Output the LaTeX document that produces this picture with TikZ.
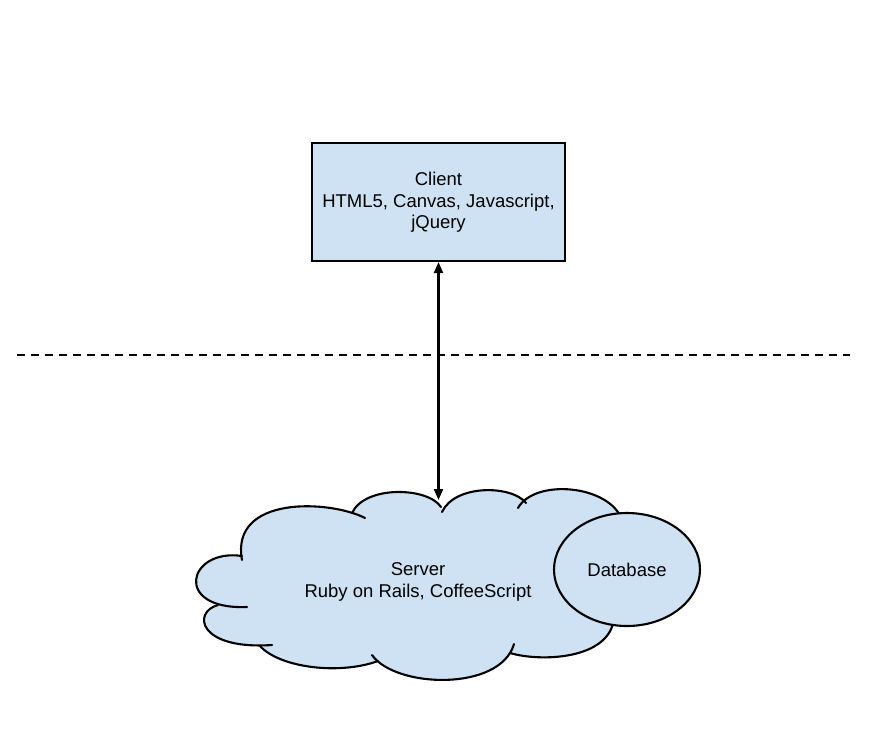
\documentclass[tikz,border=0pt]{standalone}
\usepackage{fontspec}
\setmainfont{Liberation Sans}
\usetikzlibrary{arrows.meta,shapes.geometric}
\definecolor{fillblue}{HTML}{CFE2F3}
\begin{document}
\begin{tikzpicture}[x=1pt,y=-1pt,
  line width=2.1pt,
  label/.style={font=\fontsize{18.5}{21.5}\selectfont, align=center, text=black},
  boxstyle/.style={draw=black, fill=fillblue, rectangle, line width=2.1pt, minimum width=253pt, minimum height=118pt, inner sep=0pt},
  dbstyle/.style={draw=black, fill=fillblue, ellipse, line width=2.1pt, minimum width=146pt, minimum height=113pt, inner sep=0pt},
  lobe/.style={draw=black, line width=2.1pt, line cap=round},
  conn/.style={draw=black, line width=2.1pt, {Triangle[length=11pt,width=9pt]}-{Triangle[length=11pt,width=9pt]}},
  sep/.style={draw=black, line width=2.2pt, dash pattern=on 8pt off 6pt}]
\useasboundingbox (0,0) rectangle (870,729);

% separator
\coordinate (dl) at (17,355);
\coordinate (dr) at (850,355);
\draw[sep] (dl) -- (dr);

% client
\node[boxstyle] (client) at (438.5,202) {};
\node[label] (clienttext) at (438.5,202.5) {Client\\HTML5, Canvas, Javascript,\\jQuery};

% cloud fill
\fill[fillblue] (242,556) .. controls (188,548) and (172,610) .. (247,607)
  -- (218,605) .. controls (192,612) and (198,650) .. (272,645)
  -- (260,646) .. controls (280,668) and (340,675) .. (378,661)
  -- (372,655) .. controls (395,688) and (500,692) .. (514,644)
  -- (510,653) .. controls (540,662) and (610,660) .. (614,618)
  -- (622,520) .. controls (610,485) and (535,478) .. (518,508)
  -- (526,503) .. controls (512,485) and (455,484) .. (442,512)
  -- (441,507) .. controls (428,487) and (365,485) .. (352,513)
  -- (365,518) .. controls (330,500) and (230,495) .. (242,560) -- cycle;
% cloud lobes
\draw[lobe] (242,556) .. controls (188,548) and (172,610) .. (247,607);
\draw[lobe] (218,605) .. controls (192,612) and (198,650) .. (272,645);
\draw[lobe] (260,646) .. controls (280,668) and (340,675) .. (378,661);
\draw[lobe] (372,655) .. controls (395,688) and (500,692) .. (514,644);
\draw[lobe] (510,653) .. controls (540,662) and (610,660) .. (614,618);
\draw[lobe] (622,520) .. controls (610,485) and (535,478) .. (518,508);
\draw[lobe] (526,503) .. controls (512,485) and (455,484) .. (442,512);
\draw[lobe] (441,507) .. controls (428,487) and (365,485) .. (352,513);
\draw[lobe] (365,518) .. controls (330,500) and (230,495) .. (242,560);

\node[label] (server) at (418,582) {Server\\Ruby on Rails, CoffeeScript};

% database
\node[dbstyle, label] (db) at (627,569.5) {Database};

% connector
\coordinate (cusp) at (438.5,500);
\draw[conn] (client.south) -- (cusp);
\end{tikzpicture}
\end{document}
